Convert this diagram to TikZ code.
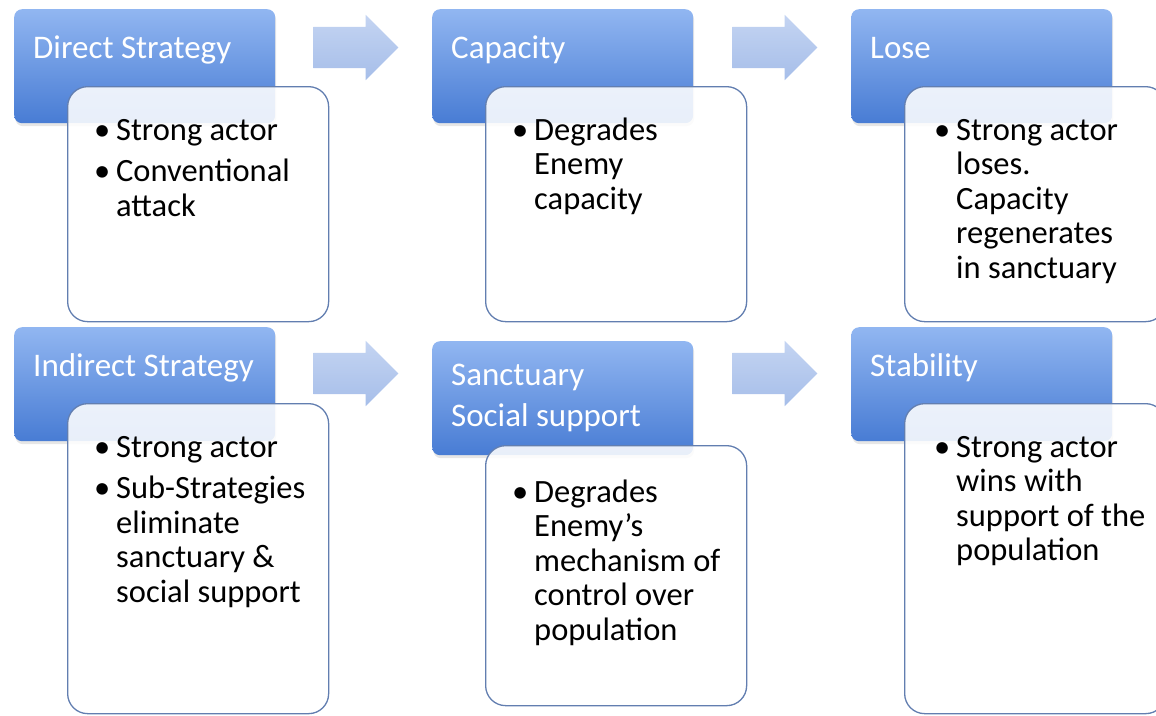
\documentclass[tikz,border=0pt]{standalone}
\usepackage{fontspec}
\setmainfont{Carlito}
\usetikzlibrary{shapes.arrows,shadows}
\definecolor{hdrtop}{RGB}{145,182,241}
\definecolor{hdrbot}{RGB}{72,124,212}
\definecolor{boxline}{RGB}{98,126,176}
\definecolor{flowtop}{RGB}{196,212,242}
\definecolor{flowbot}{RGB}{166,190,233}
\tikzset{
  hdr/.style={anchor=north west, rectangle, rounded corners=8pt, inner sep=0pt,
    minimum width=261pt, minimum height=114pt, top color=hdrtop, bottom color=hdrbot,
    drop shadow={opacity=0.2, shadow xshift=1pt, shadow yshift=-3pt}},
  hdrtxt/.style={anchor=base west, inner sep=0pt, text=white,
    font=\fontsize{33}{41}\selectfont},
  box/.style={anchor=north west, rectangle, rounded corners=20pt, inner sep=0pt,
    minimum width=261pt, draw=boxline, line width=1.3pt, fill=white, fill opacity=0.88},
  boxtxt/.style={anchor=base west, inner sep=0pt,
    font=\fontsize{32.5}{34.5}\selectfont},
  flow/.style={single arrow, single arrow head extend=12pt, single arrow tip angle=90,
    inner xsep=0pt, inner ysep=20.5pt, minimum height=85pt, minimum width=65pt,
    top color=flowtop, bottom color=flowbot}
}
\newcommand{\bul}{\makebox[22pt][l]{\textbullet}}
\newcommand{\hang}{\hspace*{22pt}}
\newcommand{\lines}[1]{\begin{tabular}[t]{@{}l@{}}#1\end{tabular}}

\begin{document}
\begin{tikzpicture}[x=1pt, y=-1pt]
  \useasboundingbox (0,0) rectangle (1156,715);
  \clip (0,0) rectangle (1156,715);

  % headers
  \node[hdr] (direct)   at ( 14,  9) {};
  \node[hdr] (capacity) at (432,  9) {};
  \node[hdr] (lose)     at (851,  9) {};
  \node[hdr] (indirect) at ( 14,327) {};
  \node[hdr] (sanct)    at (432,341) {};
  \node[hdr] (stable)   at (851,327) {};

  % arrows
  \node[flow] (f1) at (345.5, 47.5) {};
  \node[flow] (f2) at (764.5, 47.5) {};
  \node[flow] (f3) at (345.5,373.5) {};
  \node[flow] (f4) at (764.5,373.5) {};

  % bodies
  \node[box, minimum height=235pt] (directbox)   at ( 67, 86) {};
  \node[box, minimum height=235pt] (capacitybox) at (485, 86) {};
  \node[box, minimum height=235pt] (losebox)     at (904, 86) {};
  \node[box, minimum height=310pt] (indirectbox) at ( 67,403) {};
  \node[box, minimum height=260pt] (sanctbox)    at (485,445) {};
  \node[box, minimum height=310pt] (stablebox)   at (904,403) {};

  % header texts
  \node[hdrtxt] (t1) at ([shift={(19,49)}]direct.north west)   {Direct Strategy};
  \node[hdrtxt] (t2) at ([shift={(19,49)}]capacity.north west) {Capacity};
  \node[hdrtxt] (t3) at ([shift={(19,49)}]lose.north west)     {Lose};
  \node[hdrtxt] (t4) at ([shift={(19,49)}]indirect.north west) {Indirect Strategy};
  \node[hdrtxt] (t5) at ([shift={(19,44)}]sanct.north west)    {\lines{Sanctuary\\Social support}};
  \node[hdrtxt] (t6) at ([shift={(19,49)}]stable.north west)   {Stability};

  % body texts
  \node[boxtxt] (b1) at ([shift={(27,54)}]directbox.north west)
    {\lines{\bul Strong actor\\[7pt] \bul Conventional\\ \hang attack}};
  \node[boxtxt] (b2) at ([shift={(27,54)}]capacitybox.north west)
    {\lines{\bul Degrades\\ \hang Enemy\\ \hang capacity}};
  \node[boxtxt] (b3) at ([shift={(30,54)}]losebox.north west)
    {\lines{\bul Strong actor\\ \hang loses.\\ \hang Capacity\\ \hang regenerates\\ \hang in sanctuary}};
  \node[boxtxt] (b4) at ([shift={(27,54)}]indirectbox.north west)
    {\lines{\bul Strong actor\\[7pt] \bul Sub-Strategies\\ \hang eliminate\\ \hang sanctuary \&\\ \hang social support}};
  \node[boxtxt] (b5) at ([shift={(27,57)}]sanctbox.north west)
    {\lines{\bul Degrades\\ \hang Enemy’s\\ \hang mechanism of\\ \hang control over\\ \hang population}};
  \node[boxtxt] (b6) at ([shift={(30,54)}]stablebox.north west)
    {\lines{\bul Strong actor\\ \hang wins with\\ \hang support of the\\ \hang population}};
\end{tikzpicture}
\end{document}
